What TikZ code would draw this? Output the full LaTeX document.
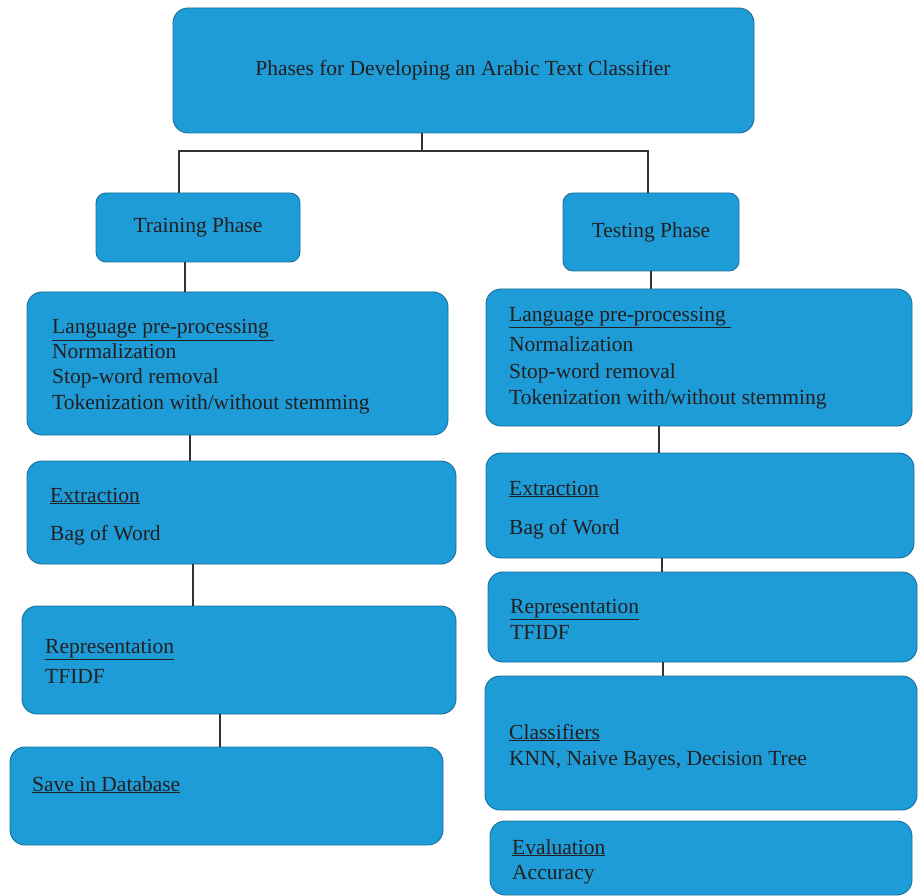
\documentclass[tikz,border=0pt]{standalone}
\usepackage{fontspec}
\setmainfont{Liberation Serif}
\definecolor{boxfill}{HTML}{1E9CD7}
\definecolor{boxline}{HTML}{1B6F9E}
\definecolor{txt}{HTML}{231F20}
\definecolor{conn}{HTML}{333333}
\begin{document}
\begin{tikzpicture}[x=1pt,y=-1pt,
  box/.style={draw=boxline,fill=boxfill,line width=0.9pt,rounded corners=15pt},
  sbox/.style={draw=boxline,fill=boxfill,line width=0.9pt,rounded corners=10pt},
  tx/.style={inner sep=0pt,anchor=base west,text=txt,font=\fontsize{21.5}{25}\selectfont},
  conn/.style={draw=conn,line width=1.1pt}]
\useasboundingbox (0,0) rectangle (919,896);
% boxes
\path[box] (173,8) rectangle (754,133);
\path[sbox] (96,193) rectangle (300,262);
\path[sbox] (563,193) rectangle (739,271);
\path[box] (27,292) rectangle (448,435);
\path[box] (486,289) rectangle (912,426);
\path[box] (27,461) rectangle (456,564);
\path[box] (486,453) rectangle (914,558);
\path[box] (22,606) rectangle (456,714);
\path[box] (488,572) rectangle (917,662);
\path[box] (10,747) rectangle (443,845);
\path[box] (485,676) rectangle (917,810);
\path[box] (490,821) rectangle (912,895);
% connector end points on the box edges
\coordinate (topS) at (422,133);
\coordinate (trN) at (179,193);
\coordinate (teN) at (648,193);
\coordinate (trS) at (185,262);
\coordinate (lpLN) at (185,292);
\coordinate (lpLS) at (190,435);
\coordinate (exLN) at (190,461);
\coordinate (exLS) at (193,564);
\coordinate (reLN) at (193,606);
\coordinate (reLS) at (220,714);
\coordinate (svN) at (220,747);
\coordinate (teS) at (651,271);
\coordinate (lpRN) at (651,289);
\coordinate (lpRS) at (659,426);
\coordinate (exRN) at (659,453);
\coordinate (exRS) at (662,558);
\coordinate (reRN) at (662,572);
\coordinate (reRS) at (663,662);
\coordinate (clN) at (663,676);
\coordinate (busL) at (179,151);
\coordinate (busM) at (422,151);
\coordinate (busR) at (648,151);
% connectors
\draw[conn] (topS) -- (busM);
\draw[conn] (trN) -- (busL) -- (busR) -- (teN);
\draw[conn] (trS) -- (lpLN);
\draw[conn] (lpLS) -- (exLN);
\draw[conn] (exLS) -- (reLN);
\draw[conn] (reLS) -- (svN);
\draw[conn] (teS) -- (lpRN);
\draw[conn] (lpRS) -- (exRN);
\draw[conn] (exRS) -- (reRN);
\draw[conn] (reRS) -- (clN);
% texts
\node[tx,anchor=base] (t0) at (463,76) {Phases for Developing an Arabic Text Classifier};
\node[tx,anchor=base] (t1) at (198,233) {Training Phase};
\node[tx,anchor=base] (t2) at (651,238) {Testing Phase};
\node[tx] (l1) at (52,334) {\underline{Language pre-processing\ }};
\node[tx] (l2) at (52,359) {Normalization};
\node[tx] (l3) at (52,383) {Stop-word removal};
\node[tx] (l4) at (52,409) {Tokenization with/without stemming};
\node[tx] (l5) at (50,502) {\underline{Extraction}};
\node[tx] (l6) at (50,540) {Bag of Word};
\node[tx] (l7) at (45,653) {\underline{Representation}};
\node[tx] (l8) at (45,683) {TFIDF};
\node[tx] (l9) at (32,791) {\underline{Save in Database}};
\node[tx] (r1) at (509,321) {\underline{Language pre-processing\ }};
\node[tx] (r2) at (509,352) {Normalization};
\node[tx] (r3) at (509,378) {Stop-word removal};
\node[tx] (r4) at (509,404) {Tokenization with/without stemming};
\node[tx] (r5) at (509,495) {\underline{Extraction}};
\node[tx] (r6) at (509,534) {Bag of Word};
\node[tx] (r7) at (510,613) {\underline{Representation}};
\node[tx] (r8) at (510,639) {TFIDF};
\node[tx] (r9) at (509,739) {\underline{Classifiers}};
\node[tx] (r10) at (509,765) {KNN, Naive Bayes, Decision Tree};
\node[tx] (r11) at (512,854) {\underline{Evaluation}};
\node[tx] (r12) at (512,879) {Accuracy};
\end{tikzpicture}
\end{document}
